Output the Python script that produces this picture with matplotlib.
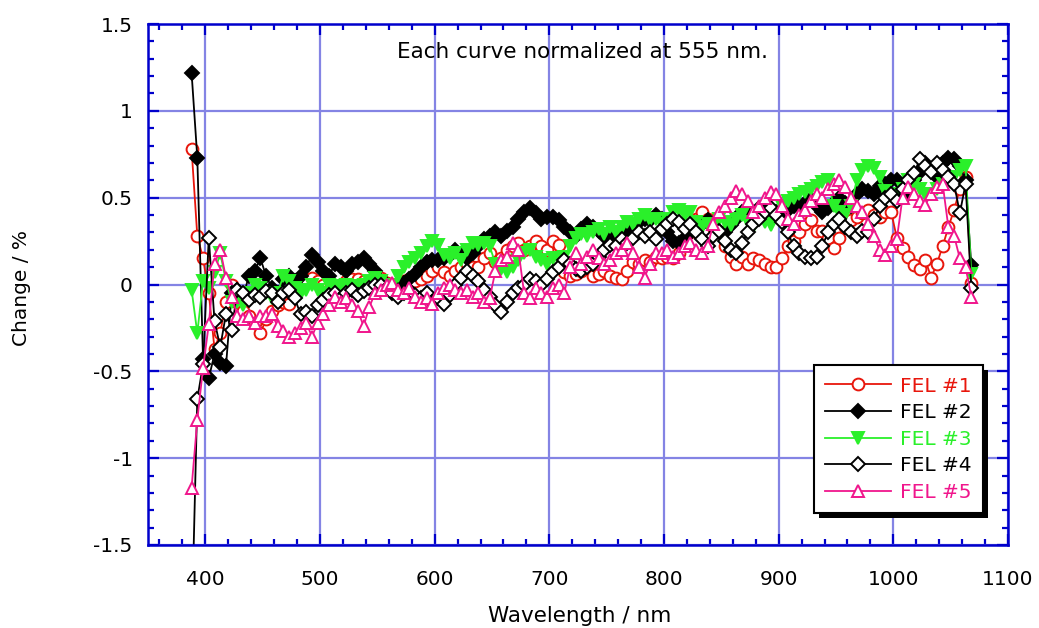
import numpy as np
import matplotlib
matplotlib.use("Agg")
import matplotlib.pyplot as plt
from matplotlib.ticker import MultipleLocator, FuncFormatter
from matplotlib.patches import Rectangle

plt.rcParams['font.family'] = ['DejaVu Sans']
plt.rcParams['axes.unicode_minus'] = False

# Wavelength grid of the scans (nm)
wavelength = np.arange(388, 1069, 5)

# Change relative to the 555 nm normalization (%)
fel1 = [0.78, 0.28, 0.15, -0.05, -0.37, -0.28, -0.10, 0.00, -0.10, -0.15,
        -0.18, -0.22, -0.28, -0.20, -0.15, -0.12, -0.10, -0.11, -0.05, 0.00,
        0.03, 0.04, 0.02, 0.00, -0.03, -0.02, 0.00, 0.02, 0.03, 0.03,
        0.02, 0.00, 0.03, 0.04, 0.01, -0.02, 0.00, 0.02, 0.03, 0.02,
        0.03, 0.05, 0.08, 0.10, 0.07, 0.05, 0.08, 0.10, 0.12, 0.10,
        0.10, 0.15, 0.18, 0.13, 0.15, 0.20, 0.22, 0.24, 0.20, 0.22,
        0.25, 0.22, 0.20, 0.25, 0.23, 0.07, 0.05, 0.06, 0.08, 0.10,
        0.05, 0.06, 0.08, 0.05, 0.04, 0.03, 0.08, 0.13, 0.12, 0.14,
        0.13, 0.16, 0.15, 0.16, 0.15, 0.18, 0.25, 0.30, 0.38, 0.42,
        0.38, 0.33, 0.30, 0.22, 0.16, 0.12, 0.16, 0.12, 0.15, 0.14,
        0.12, 0.10, 0.10, 0.15, 0.22, 0.25, 0.30, 0.35, 0.37, 0.31,
        0.31, 0.27, 0.21, 0.27, 0.33, 0.37, 0.39, 0.41, 0.43, 0.40,
        0.39, 0.42, 0.42, 0.27, 0.21, 0.16, 0.11, 0.09, 0.14, 0.04,
        0.12, 0.22, 0.33, 0.43, 0.55, 0.62, 0.01]

fel2 = [1.22, 0.73, -0.43, -0.54, -0.40, -0.45, -0.47, -0.05, -0.03, -0.07,
        0.05, 0.08, 0.15, 0.05, -0.02, -0.05, 0.03, 0.05, 0.02, 0.05,
        0.10, 0.17, 0.13, 0.08, 0.05, 0.12, 0.10, 0.08, 0.12, 0.13,
        0.15, 0.12, 0.08, 0.02, 0.00, -0.02, 0.00, 0.01, 0.03, 0.06,
        0.10, 0.13, 0.14, 0.14, 0.15, 0.17, 0.20, 0.17, 0.15, 0.18,
        0.22, 0.26, 0.28, 0.30, 0.28, 0.31, 0.33, 0.38, 0.42, 0.44,
        0.41, 0.38, 0.39, 0.39, 0.37, 0.33, 0.30, 0.28, 0.32, 0.35,
        0.33, 0.31, 0.28, 0.27, 0.25, 0.27, 0.30, 0.33, 0.36, 0.38,
        0.37, 0.40, 0.38, 0.30, 0.25, 0.24, 0.27, 0.30, 0.33, 0.35,
        0.37, 0.33, 0.31, 0.30, 0.34, 0.38, 0.42, 0.43, 0.41, 0.44,
        0.46, 0.43, 0.42, 0.40, 0.43, 0.45, 0.46, 0.47, 0.49, 0.45,
        0.42, 0.44, 0.47, 0.50, 0.47, 0.45, 0.52, 0.55, 0.54, 0.52,
        0.57, 0.58, 0.60, 0.60, 0.55, 0.52, 0.60, 0.65, 0.70, 0.66,
        0.62, 0.70, 0.73, 0.72, 0.68, 0.60, 0.11]

fel3 = [-0.03, -0.28, 0.02, -0.02, 0.07, 0.18, 0.02, -0.10, -0.10, -0.12,
        -0.05, 0.00, -0.02, -0.05, -0.08, -0.05, 0.05, 0.02, -0.02, -0.05,
        -0.03, 0.00, -0.03, -0.05, 0.00, -0.02, -0.01, 0.00, -0.02, -0.01,
        0.00, 0.02, 0.04, 0.02, 0.00, 0.00, 0.05, 0.10, 0.13, 0.15,
        0.18, 0.22, 0.25, 0.23, 0.17, 0.15, 0.18, 0.14, 0.20, 0.24,
        0.23, 0.24, 0.22, 0.12, 0.09, 0.07, 0.10, 0.14, 0.18, 0.20,
        0.16, 0.14, 0.12, 0.15, 0.14, 0.16, 0.22, 0.27, 0.29, 0.28,
        0.30, 0.32, 0.29, 0.33, 0.30, 0.33, 0.36, 0.35, 0.38, 0.40,
        0.37, 0.38, 0.35, 0.38, 0.42, 0.43, 0.40, 0.42, 0.36, 0.33,
        0.35, 0.33, 0.38, 0.36, 0.34, 0.38, 0.40, 0.36, 0.33, 0.38,
        0.36, 0.34, 0.40, 0.45, 0.48, 0.50, 0.52, 0.53, 0.55, 0.57,
        0.59, 0.60, 0.45, 0.42, 0.40, 0.45, 0.60, 0.66, 0.68, 0.67,
        0.62, 0.54, 0.52, 0.50, 0.55, 0.60, 0.58, 0.55, 0.52, 0.52,
        0.55, 0.58, 0.60, 0.62, 0.66, 0.68, 0.06]

fel4 = [-2.00, -0.66, -0.46, 0.27, -0.21, -0.36, -0.17, -0.26, -0.03, -0.05,
        -0.09, -0.06, -0.07, -0.04, -0.05, -0.10, -0.05, -0.03, -0.08, -0.17,
        -0.16, -0.18, -0.12, -0.09, -0.06, -0.05, -0.08, -0.05, -0.03, -0.06,
        -0.04, -0.02, 0.00, 0.00, -0.02, -0.05, -0.07, -0.05, -0.03, -0.06,
        -0.08, -0.05, -0.10, -0.08, -0.11, -0.06, 0.00, 0.04, 0.08, 0.05,
        0.02, -0.03, -0.07, -0.12, -0.16, -0.10, -0.05, -0.02, 0.00, 0.03,
        0.02, 0.00, 0.03, 0.07, 0.10, 0.14, 0.12, 0.09, 0.08, 0.10,
        0.12, 0.16, 0.20, 0.23, 0.22, 0.26, 0.24, 0.27, 0.30, 0.28,
        0.30, 0.26, 0.32, 0.35, 0.38, 0.36, 0.32, 0.35, 0.30, 0.26,
        0.22, 0.28, 0.31, 0.25, 0.20, 0.18, 0.24, 0.30, 0.35, 0.38,
        0.42, 0.44, 0.40, 0.36, 0.30, 0.22, 0.18, 0.16, 0.15, 0.16,
        0.22, 0.30, 0.35, 0.38, 0.33, 0.30, 0.28, 0.31, 0.30, 0.38,
        0.45, 0.50, 0.52, 0.48, 0.55, 0.60, 0.64, 0.72, 0.68, 0.65,
        0.70, 0.66, 0.62, 0.58, 0.41, 0.58, -0.02]

fel5 = [-1.17, -0.78, -0.48, -0.23, 0.12, 0.20, 0.04, -0.07, -0.18, -0.20,
        -0.18, -0.22, -0.18, -0.18, -0.17, -0.24, -0.27, -0.30, -0.28, -0.25,
        -0.22, -0.30, -0.22, -0.17, -0.12, -0.07, -0.10, -0.08, -0.12, -0.15,
        -0.24, -0.13, -0.05, -0.03, 0.00, 0.01, -0.03, -0.05, -0.02, -0.07,
        -0.10, -0.08, -0.11, -0.05, -0.02, 0.00, -0.03, -0.05, -0.03, -0.07,
        -0.05, -0.10, -0.08, 0.08, 0.14, 0.16, 0.24, 0.20, -0.05, -0.08,
        -0.02, -0.05, -0.07, -0.02, 0.00, -0.05, 0.10, 0.18, 0.12, 0.16,
        0.20, 0.15, 0.12, 0.14, 0.18, 0.20, 0.24, 0.18, 0.10, 0.04,
        0.12, 0.18, 0.18, 0.20, 0.16, 0.18, 0.22, 0.24, 0.20, 0.18,
        0.22, 0.35, 0.42, 0.45, 0.50, 0.54, 0.52, 0.48, 0.42, 0.45,
        0.50, 0.53, 0.52, 0.45, 0.38, 0.35, 0.40, 0.43, 0.48, 0.52,
        0.50, 0.55, 0.58, 0.60, 0.56, 0.50, 0.45, 0.42, 0.35, 0.28,
        0.20, 0.17, 0.22, 0.26, 0.50, 0.56, 0.52, 0.48, 0.46, 0.52,
        0.56, 0.58, 0.33, 0.28, 0.15, 0.10, -0.07]

labels = ["FEL #1", "FEL #2", "FEL #3", "FEL #4", "FEL #5"]
colors = ["#e8160c", "#000000", "#2af02a", "#000000", "#f0168c"]

for s in (fel1, fel2, fel3, fel4, fel5):
    assert len(s) == len(wavelength)

blue = "#0000cc"
grid_col = "#8484e4"

fig = plt.figure(figsize=(10.39, 6.28), dpi=100)
ax = fig.add_axes([148 / 1039, 1 - 545 / 628, 860 / 1039, 521 / 628])

styles = [
    dict(marker="o", mfc="white", ms=8.5),
    dict(marker="D", mfc="#000000", ms=7),
    dict(marker="v", mfc=colors[2], ms=9),
    dict(marker="D", mfc="white", ms=7),
    dict(marker="^", mfc="white", ms=9),
]
series = [fel1, fel2, fel3, fel4, fel5]
for y, lab, col, st in zip(series, labels, colors, styles):
    ax.plot(wavelength, y, color=col, lw=1.3, mec=col, mew=1.4,
            label=lab, **st)

ax.set_xlim(350, 1100)
ax.set_ylim(-1.5, 1.5)
ax.xaxis.set_minor_locator(MultipleLocator(20))
ax.yaxis.set_major_locator(MultipleLocator(0.5))
ax.yaxis.set_minor_locator(MultipleLocator(0.1))
ax.set_xticks([400, 500, 600, 700, 800, 900, 1000, 1100])
ax.yaxis.set_major_formatter(FuncFormatter(lambda v, p: f"{v:g}"))

ax.grid(True, which="major", color=grid_col, lw=1.6)
ax.set_axisbelow(True)
for sp in ax.spines.values():
    sp.set_color(blue)
    sp.set_linewidth(1.8)
ax.tick_params(which="both", direction="in", top=True, right=True,
               color=blue, width=1.6, labelsize=14.5)
ax.tick_params(which="major", length=8)
ax.tick_params(which="minor", length=4.5)
ax.tick_params(axis="x", pad=18)
ax.tick_params(axis="y", pad=11)

ax.text(729, 1.34, "Each curve normalized at 555 nm.", ha="center",
        va="center", fontsize=15.5)

fig.text(580 / 1039, 1 - 616 / 628, "Wavelength / nm", ha="center",
         va="center", fontsize=15.5)
fig.text(22 / 1039, 1 - 288 / 628, "Change / %", ha="center", va="center",
         rotation=90, fontsize=14.5)

leg = ax.legend(loc="lower right", bbox_to_anchor=(0.971, 0.061),
                borderaxespad=0, fancybox=False, framealpha=1,
                edgecolor="black", fontsize=14.5, handlelength=3.3,
                handletextpad=0.45, labelspacing=0.38, borderpad=0.55)
leg.get_frame().set_linewidth(1.5)
for txt, col in zip(leg.get_texts(), colors):
    txt.set_color(col)

# drop shadow under the legend box
fig.canvas.draw()
bb = leg.get_window_extent()
shadow = Rectangle((bb.x0 + 5, bb.y0 - 5), bb.width, bb.height,
                   transform=None, facecolor="black", edgecolor="none",
                   zorder=leg.get_zorder() - 0.1)
ax.add_artist(shadow)
shadow.set_clip_on(False)

fig.savefig("out.png", dpi=100)
